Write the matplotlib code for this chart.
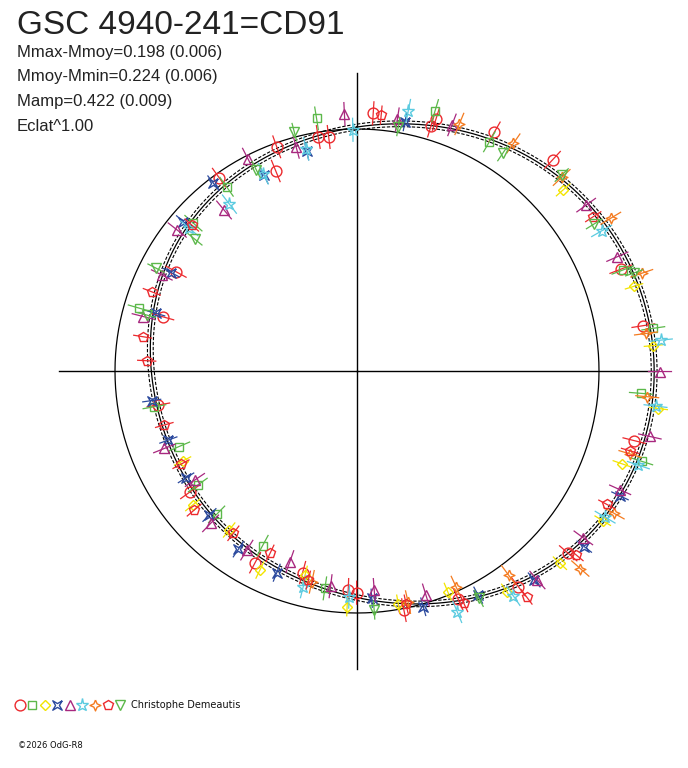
import numpy as np
import matplotlib
matplotlib.use('Agg')
import matplotlib.pyplot as plt
from matplotlib.lines import Line2D

# phase angle (deg, clockwise from top) and radius (1 = reference circle)
red_o_ang = [324.5, 340.3, 337.9, 350.6, 353.1, 3.6, 17.4, 16.8, 29.9, 42.8, 68.9, 81.0, 104.1,
             130.8, 143.2, 156.1, 168.9, 182.3, 180.1, 195.1, 208.0, 234.1, 260.3, 298.75, 285.6]
red_o_r = [0.981, 0.984, 0.892, 0.980, 0.974, 1.067, 1.090, 1.058, 1.139, 1.189, 1.168, 1.198, 1.181,
           1.153, 1.113, 1.032, 1.007, 0.906, 0.916, 0.863, 0.897, 0.852, 0.833, 0.853, 0.834]

red_p_ang = [5.4, 56.85, 106.3, 118.1, 130.0, 143.1, 155.3, 168.1, 193.1, 205.5, 217.3, 229.5,
             242.1, 254.35, 272.8, 279.1, 291.1, 311.45]
red_p_r = [1.062, 1.166, 1.176, 1.170, 1.182, 1.167, 1.057, 0.984, 0.887, 0.835, 0.843, 0.885,
           0.823, 0.827, 0.870, 0.897, 0.909, 0.911]

green_s_ang = [324.7, 350.9, 16.7, 30.0, 69.2, 81.8, 94.5, 107.6, 208.4, 224.4, 234.4, 247.0,
               260.0, 286.1, 312.1, 188.4]
green_s_r = [0.933, 1.057, 1.123, 1.094, 1.175, 1.237, 1.177, 1.234, 0.820, 0.829, 0.809, 0.799,
             0.850, 0.936, 0.911, 0.908]

yellow_ang = [48.7, 73.0, 85.1, 97.1, 109.3, 121.35, 133.45, 145.85, 157.65, 169.95, 182.4, 194.3,
              206.0, 218.8, 230.8, 242.7]
yellow_r = [1.134, 1.197, 1.229, 1.255, 1.159, 1.189, 1.155, 1.102, 0.986, 0.978, 0.975, 0.870,
            0.915, 0.843, 0.876, 0.811]

blue_ang = [322.6, 334.6, 347.1, 10.9, 115.4, 127.7, 139.7, 151.6, 164.3, 176.3, 201.7, 213.65,
            225.7, 238.0, 249.9, 261.8, 286.0, 297.9, 310.7]
blue_r = [0.977, 0.896, 0.933, 1.049, 1.203, 1.187, 1.132, 1.053, 1.012, 0.941, 0.897, 0.885,
          0.852, 0.833, 0.830, 0.857, 0.864, 0.869, 0.946]

purple_ang = [332.8, 344.8, 357.2, 9.1, 21.1, 54.1, 66.3, 90.1, 102.6, 114.3, 126.4, 139.2, 162.9,
              175.5, 187.0, 199.4, 211.6, 223.85, 236.1, 248.1, 284.3, 296.2, 308.1, 320.45]
purple_r = [0.987, 0.959, 1.063, 1.053, 1.090, 1.169, 1.175, 1.252, 1.240, 1.193, 1.162, 1.141, 0.969,
            0.908, 0.896, 0.835, 0.869, 0.873, 0.807, 0.858, 0.911, 0.899, 0.944, 0.863]

cyan_ang = [322.6, 334.6, 347.1, 359.0, 11.15, 60.2, 84.2, 96.7, 108.5, 120.5, 145.2, 157.4,
            182.0, 194.0, 310.4]
cyan_r = [0.868, 0.903, 0.942, 0.997, 1.096, 1.165, 1.262, 1.242, 1.226, 1.190, 1.132, 1.078,
          0.933, 0.918, 0.910]

orange_ang = [22.5, 34.5, 46.6, 58.95, 71.06, 82.6, 95.06, 106.9, 118.97, 131.5, 143.4, 155.35,
              167.55, 192.1]
orange_r = [1.105, 1.141, 1.164, 1.224, 1.244, 1.204, 1.204, 1.179, 1.214, 1.232, 1.050, 0.981,
            0.978, 0.891]

green_v_ang = [333.4, 345.3, 9.6, 33.8, 46.25, 58.2, 70.5, 151.8, 175.9, 309.1, 297.1, 284.9]
green_v_r = [0.931, 1.020, 1.024, 1.083, 1.171, 1.153, 1.215, 1.066, 0.990, 0.863, 0.933, 0.899]

# fitted light curve
curve_ang = [0, 18.8, 35.0, 38.7, 52.2, 64.7, 78.8, 90, 104.8, 120, 136.1, 151.2, 166.5, 180,
             191.45, 207.6, 228.4, 236.6, 258.1, 270, 285.05, 303.6, 318.8, 321.3, 340.8, 353.5]
curve_r = [1.010, 1.064, 1.124, 1.144, 1.165, 1.202, 1.226, 1.222, 1.224, 1.19, 1.131, 1.056, 0.995,
           0.930, 0.909, 0.866, 0.845, 0.825, 0.849, 0.855, 0.864, 0.903, 0.939, 0.945, 0.967, 0.984]

title = 'GSC 4940-241=CD91'
stats = ['Mmax-Mmoy=0.198 (0.006)', 'Mmoy-Mmin=0.224 (0.006)', 'Mamp=0.422 (0.009)', 'Eclat^1.00']
observer = 'Christophe Demeautis'

# custom markers
astroid = [(1, 1), (0.4, 0), (1, -1), (0, -0.4), (-1, -1), (-0.4, 0), (-1, 1), (0, 0.4), (1, 1)]
star4 = [(0, 1), (0.3, 0.3), (1, 0), (0.3, -0.3), (0, -1), (-0.3, -0.3), (-1, 0), (-0.3, 0.3), (0, 1)]

series = [
    (red_o_ang, red_o_r, 'o', '#ec2a2e', 7.8, 0.05),
    (green_s_ang, green_s_r, 's', '#5cb84a', 5.6, 0.05),
    (yellow_ang, yellow_r, 'D', '#f2e400', 5.2, 0.04),
    (blue_ang, blue_r, astroid, '#2c4a9e', 6.8, 0.04),
    (purple_ang, purple_r, '^', '#a8287f', 7.5, 0.05),
    (cyan_ang, cyan_r, '*', '#5ccbe0', 9.5, 0.05),
    (orange_ang, orange_r, star4, '#f47b20', 7.8, 0.05),
    (red_p_ang, red_p_r, 'p', '#ec2a2e', 7.8, 0.04),
    (green_v_ang, green_v_r, 'v', '#5cb84a', 7.5, 0.04),
]

W, H = 688, 768
cx, cy, R = 357, 371, 242.0
rmax = 1.30

fig = plt.figure(figsize=(W / 100, H / 100), dpi=100)
half = rmax * R
ax = fig.add_axes([(cx - half) / W, (H - cy - half) / H, 2 * half / W, 2 * half / H], projection='polar')
ax.set_theta_zero_location('N')
ax.set_theta_direction(-1)
ax.set_ylim(0, rmax)
ax.grid(False)
ax.set_xticks([])
ax.set_yticks([])
ax.spines['polar'].set_visible(False)
ax.patch.set_alpha(0)

# cross and reference circle
for a in [0, 90, 180, 270]:
    ax.plot([np.radians(a)] * 2, [0, 1.23], color='black', lw=1.0)
tt = np.linspace(0, 2 * np.pi, 721)
ax.plot(tt, np.ones_like(tt), color='black', lw=0.9)

# Fourier fit through the curve readings
th = np.radians(curve_ang)
def design(t, n=4):
    cols = [np.ones_like(t)]
    for k in range(1, n + 1):
        cols += [np.cos(k * t), np.sin(k * t)]
    return np.column_stack(cols)
coef = np.linalg.lstsq(design(th), np.array(curve_r), rcond=None)[0]
fit = design(tt) @ coef
ax.plot(tt, fit, color='black', lw=0.9)
ax.plot(tt, fit + 0.012, color='black', lw=0.8, dashes=(3, 1.5))
ax.plot(tt, fit - 0.012, color='black', lw=0.8, dashes=(3, 1.5))

# observations with radial error bars
for ang, r, mk, col, ms, err in series:
    t = np.radians(ang)
    ax.errorbar(t, r, yerr=err, fmt='none', ecolor=col, elinewidth=0.9, clip_on=False)
    ax.plot(t, r, linestyle='none', marker=mk, mfc='none', mec=col, ms=ms, mew=1.0, clip_on=False)

# texts
fig.text(17 / W, 1 - 33.5 / H, title, fontsize=24, family='Liberation Sans', color='#222222', va='baseline')
for i, s in enumerate(stats):
    fig.text(17 / W, 1 - (56.7 + 24.8 * i) / H, s, fontsize=12, family='Liberation Sans',
             color='#222222', va='baseline')

# legend row
lx = [19.5, 32, 44.5, 57, 70, 82, 95, 107.5, 120]
for x, (ang, r, mk, col, ms, err) in zip(lx, series):
    fig.add_artist(Line2D([x / W], [1 - 705 / H], transform=fig.transFigure, linestyle='none',
                          marker=mk, mfc='none', mec=col, ms=ms, mew=1.0))
fig.text(131 / W, 1 - 705 / H, observer, fontsize=7, family='DejaVu Sans', color='#111111', va='center')
fig.text(18 / W, 1 - 746 / H, '\u00a92026 OdG-R8', fontsize=6, family='DejaVu Sans', color='#111111', va='center')

fig.savefig('out.png', dpi=100)
